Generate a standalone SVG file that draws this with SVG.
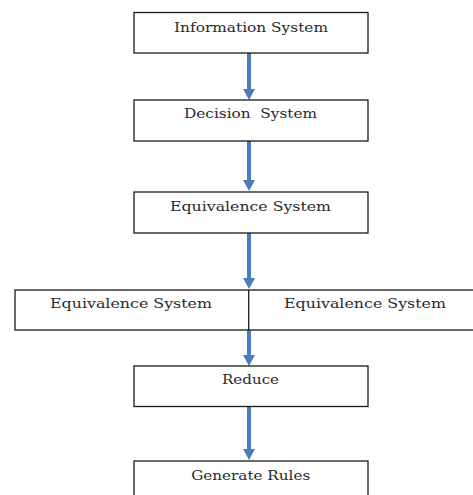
<svg xmlns="http://www.w3.org/2000/svg" width="473" height="495" viewBox="0 0 473 495">
<style>
.box{fill:#fff;stroke:#1a1a1a;stroke-width:1.3}
.lbl{font-family:"DejaVu Serif","Liberation Serif",serif;font-size:13.5px;fill:#2a2a2a;text-anchor:middle}
.conn{stroke:#4a7ebb;stroke-width:4;fill:none}
.head{fill:#4a7ebb}
</style>
<rect width="473" height="495" fill="#fff"/>
<g id="connectors">
<line class="conn" x1="249" y1="53" x2="249" y2="90"/><path class="head" d="M243,89 L255,89 L249,100 Z"/>
<line class="conn" x1="249" y1="141" x2="249" y2="181"/><path class="head" d="M243,180 L255,180 L249,191 Z"/>
<line class="conn" x1="249" y1="233" x2="249" y2="279"/><path class="head" d="M243,278 L255,278 L249,289 Z"/>
<line class="conn" x1="249" y1="330" x2="249" y2="356"/><path class="head" d="M243,355 L255,355 L249,366 Z"/>
<line class="conn" x1="249" y1="407" x2="249" y2="450"/><path class="head" d="M243,449 L255,449 L249,460 Z"/>
</g>
<g id="information-system">
<rect class="box" x="134" y="12.5" width="234" height="40.5"/>
<text class="lbl" x="251" y="32" textLength="154" lengthAdjust="spacingAndGlyphs">Information System</text>
</g>
<g id="decision-system">
<rect class="box" x="134" y="100" width="234" height="41"/>
<text class="lbl" x="250.5" y="118" textLength="133" lengthAdjust="spacingAndGlyphs" xml:space="preserve">Decision  System</text>
</g>
<g id="equivalence-system">
<rect class="box" x="134" y="192" width="234" height="41"/>
<text class="lbl" x="250.5" y="211" textLength="161" lengthAdjust="spacingAndGlyphs">Equivalence System</text>
</g>
<g id="equivalence-split">
<rect class="box" x="15" y="290" width="470" height="40"/>
<line x1="248.7" y1="290" x2="248.7" y2="330" stroke="#1a1a1a" stroke-width="1.3"/>
<text class="lbl" x="131" y="308" textLength="162" lengthAdjust="spacingAndGlyphs">Equivalence System</text>
<text class="lbl" x="365" y="308" textLength="162" lengthAdjust="spacingAndGlyphs">Equivalence System</text>
</g>
<g id="reduce">
<rect class="box" x="134" y="366" width="234" height="40.5"/>
<text class="lbl" x="250.5" y="384" textLength="57" lengthAdjust="spacingAndGlyphs">Reduce</text>
</g>
<g id="generate-rules">
<rect class="box" x="134" y="461" width="234" height="40"/>
<text class="lbl" x="250.7" y="480" textLength="119" lengthAdjust="spacingAndGlyphs">Generate Rules</text>
</g>
</svg>
